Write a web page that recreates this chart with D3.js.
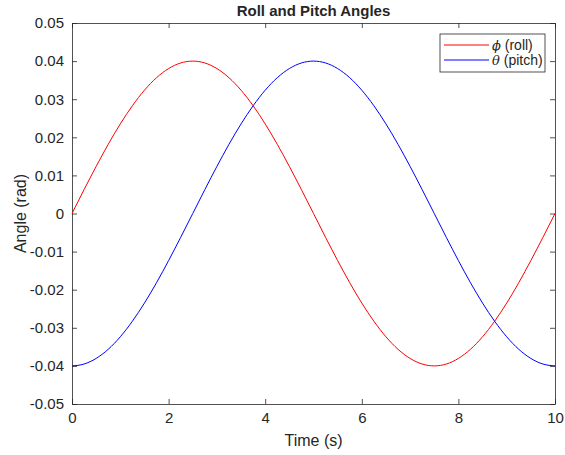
<!DOCTYPE html>
<html>
<head>
<meta charset="utf-8">
<script src="https://cdn.jsdelivr.net/npm/d3@7"></script>
<style>
  body { margin: 0; background: #fff; }
  text { font-family: "Liberation Sans", Arial, sans-serif; fill: #262626; }
</style>
</head>
<body>
<svg id="chart" width="565" height="455"></svg>
<script>
// time samples (s)
var time = [0, 0.25, 0.5, 0.75, 1, 1.25, 1.5, 1.75, 2, 2.25, 2.5, 2.75, 3, 3.25, 3.5, 3.75,
  4, 4.25, 4.5, 4.75, 5, 5.25, 5.5, 5.75, 6, 6.25, 6.5, 6.75, 7, 7.25, 7.5, 7.75,
  8, 8.25, 8.5, 8.75, 9, 9.25, 9.5, 9.75, 10];

// roll angle phi (rad)
var roll = [0, .00626, .01236, .01816, .02351, .02828, .03236, .03564, .03804, .03951, .04,
  .03951, .03804, .03564, .03236, .02828, .02351, .01816, .01236, .00626, 0,
  -.00626, -.01236, -.01816, -.02351, -.02828, -.03236, -.03564, -.03804, -.03951, -.04,
  -.03951, -.03804, -.03564, -.03236, -.02828, -.02351, -.01816, -.01236, -.00626, 0];

// pitch angle theta (rad)
var pitch = [-.04, -.03951, -.03804, -.03564, -.03236, -.02828, -.02351, -.01816, -.01236, -.00626, 0,
  .00626, .01236, .01816, .02351, .02828, .03236, .03564, .03804, .03951, .04,
  .03951, .03804, .03564, .03236, .02828, .02351, .01816, .01236, .00626, 0,
  -.00626, -.01236, -.01816, -.02351, -.02828, -.03236, -.03564, -.03804, -.03951, -.04];

var xTicks = [0, 2, 4, 6, 8, 10];
var yTicks = [-0.05, -0.04, -0.03, -0.02, -0.01, 0, 0.01, 0.02, 0.03, 0.04, 0.05];

var series = [
  { name: "roll", sym: "\u03d5", label: " (roll)", color: "#ff0000", values: roll },
  { name: "pitch", sym: "\u03b8", label: " (pitch)", color: "#0000ff", values: pitch }
];

var svg = d3.select("#chart");
var mLeft = 72, mRight = 555, mTop = 23, mBottom = 404;

var x = d3.scaleLinear().domain([0, 10]).range([mLeft, mRight]);
var y = d3.scaleLinear().domain([-0.05, 0.05]).range([mBottom, mTop]);

// plain hyphen for negatives, like the original
var fmtLocale = d3.formatLocale({ decimal: ".", thousands: ",", grouping: [3], currency: ["", ""], minus: "-" });
function fmt(d) { return d === 0 ? "0" : fmtLocale.format(".2f")(d); }

var axisColor = "#262626";

// axes with inward ticks
var gx = svg.append("g").attr("transform", "translate(0," + mBottom + ")")
  .call(d3.axisBottom(x).tickValues(xTicks).tickSizeInner(-5).tickSizeOuter(0).tickPadding(8).tickFormat(d3.format("d")));
var gxt = svg.append("g").attr("transform", "translate(0," + mTop + ")")
  .call(d3.axisTop(x).tickValues(xTicks).tickSizeInner(-5).tickSizeOuter(0).tickFormat(""));
var gy = svg.append("g").attr("transform", "translate(" + mLeft + ",0)")
  .call(d3.axisLeft(y).tickValues(yTicks).tickSizeInner(-5).tickSizeOuter(0).tickPadding(8).tickFormat(fmt));
var gyr = svg.append("g").attr("transform", "translate(" + mRight + ",0)")
  .call(d3.axisRight(y).tickValues(yTicks).tickSizeInner(-5).tickSizeOuter(0).tickFormat(""));

[gx, gxt, gy, gyr].forEach(function (g) {
  g.selectAll("path").attr("stroke", axisColor).attr("stroke-width", 0.8);
  g.selectAll("line").attr("stroke", axisColor).attr("stroke-width", 0.8);
  g.selectAll("text").style("font-size", "15px").attr("fill", axisColor);
});

// lines
var line = d3.line()
  .x(function (d, i) { return x(time[i]); })
  .y(function (d) { return y(d); })
  .curve(d3.curveMonotoneX);

svg.append("g").selectAll("path")
  .data(series)
  .enter().append("path")
  .attr("fill", "none")
  .attr("stroke", function (d) { return d.color; })
  .attr("stroke-width", 1)
  .attr("d", function (d) { return line(d.values); });

// title and labels
svg.append("text")
  .attr("x", (mLeft + mRight) / 2).attr("y", 16)
  .attr("text-anchor", "middle")
  .style("font-size", "15px").style("font-weight", "bold")
  .attr("fill", "#000")
  .text("Roll and Pitch Angles");

svg.append("text")
  .attr("x", (mLeft + mRight) / 2).attr("y", 446)
  .attr("text-anchor", "middle")
  .style("font-size", "16px")
  .text("Time (s)");

svg.append("text")
  .attr("transform", "translate(20," + ((mTop + mBottom) / 2) + ") rotate(-90)")
  .attr("text-anchor", "middle")
  .attr("dy", "0.35em")
  .style("font-size", "16px")
  .text("Angle (rad)");

// legend
var lg = svg.append("g");
lg.append("rect")
  .attr("x", 440).attr("y", 34).attr("width", 105).attr("height", 38)
  .attr("fill", "#fff").attr("stroke", axisColor).attr("stroke-width", 0.8);

var item = lg.selectAll("g.item")
  .data(series)
  .enter().append("g")
  .attr("class", "item")
  .attr("transform", function (d, i) { return "translate(0," + (45 + i * 15) + ")"; });

item.append("line")
  .attr("x1", 444).attr("x2", 489)
  .attr("stroke", function (d) { return d.color; })
  .attr("stroke-width", 1);

var lt = item.append("text")
  .attr("x", 492).attr("dy", "0.35em")
  .style("font-size", "14px");
lt.append("tspan")
  .style("font-style", "italic")
  .style("font-family", "'DejaVu Serif', serif")
  .style("font-size", "13px")
  .text(function (d) { return d.sym; });
lt.append("tspan")
  .text(function (d) { return d.label; });
</script>
</body>
</html>
